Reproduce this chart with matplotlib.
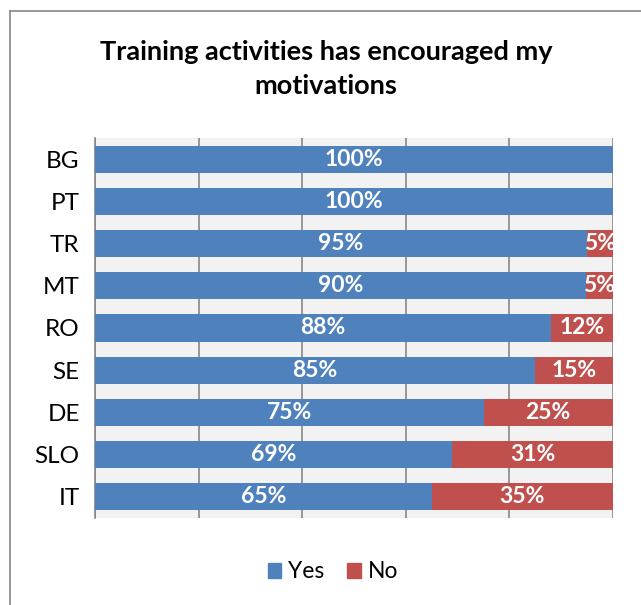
import numpy as np
import matplotlib
matplotlib.use('Agg')
import matplotlib.pyplot as plt
from matplotlib.lines import Line2D
from matplotlib.patches import Patch

plt.rcParams['font.family'] = ['Lato', 'DejaVu Sans']

countries = ["BG", "PT", "TR", "MT", "RO", "SE", "DE", "SLO", "IT"]
yes_vals = [100, 100, 95, 90, 88, 85, 75, 69, 65]
no_vals = [0, 0, 5, 5, 12, 15, 25, 31, 35]
title = "Training activities has encouraged my\nmotivations"

blue = "#4F81BD"
red = "#C0504D"

yes = np.array(yes_vals, dtype=float)
no = np.array(no_vals, dtype=float)
tot = yes + no
yes_s = yes / tot * 100
no_s = no / tot * 100

fig = plt.figure(figsize=(6.41, 6.05), dpi=100)
ax = fig.add_axes([95/641, 87/605, 518/641, 380/605])
ax.set_facecolor("#F2F2F2")

ypos = np.arange(len(countries))
ax.barh(ypos, yes_s, height=0.64, color=blue, zorder=3, label="Yes")
ax.barh(ypos, no_s, left=yes_s, height=0.64, color=red, zorder=3, label="No")

for i in range(len(countries)):
    ax.text(yes_s[i]/2, ypos[i], "%d%%" % yes_vals[i], ha="center", va="center",
            color="white", fontsize=16.5, fontweight="bold", zorder=4)
    if no_vals[i] > 0:
        ax.text(yes_s[i] + no_s[i]/2, ypos[i], "%d%%" % no_vals[i], ha="center", va="center",
                color="white", fontsize=16.5, fontweight="bold", zorder=4)

ax.set_xlim(0, 100)
ax.set_ylim(len(countries) - 0.5, -0.5)
ax.set_xticks([0, 20, 40, 60, 80, 100])
ax.set_xticklabels([])
ax.xaxis.grid(True, color="#868686", linewidth=1.2, zorder=1)
ax.tick_params(axis="x", length=0)
ax.set_yticks(ypos)
ax.set_yticklabels(countries, fontsize=17.5)
ax.tick_params(axis="y", length=0, pad=11)
for s in ["top", "right", "bottom"]:
    ax.spines[s].set_visible(False)
ax.spines["left"].set_color("#868686")
ax.spines["left"].set_linewidth(1.2)

fig.text(326/641, 1 - 69/605, title, ha="center", va="center", fontsize=19.5,
         fontweight="bold", linespacing=1.45)

handles = [Patch(color=blue), Patch(color=red)]
fig.legend(handles, ["Yes", "No"], loc="center", bbox_to_anchor=(333/641, 1 - 572/605),
           ncol=2, frameon=False, fontsize=16.5, handlelength=0.6, handleheight=0.6,
           handletextpad=0.3, columnspacing=1.0)

# chart border (top and left only, picture is cropped)
fig.add_artist(Line2D([10/641, 10/641], [0, 1 - 11/605], color="#868686", lw=1.2))
fig.add_artist(Line2D([10/641, 1], [1 - 11/605, 1 - 11/605], color="#868686", lw=1.2))

plt.savefig("out.png", dpi=100)
plt.close()
